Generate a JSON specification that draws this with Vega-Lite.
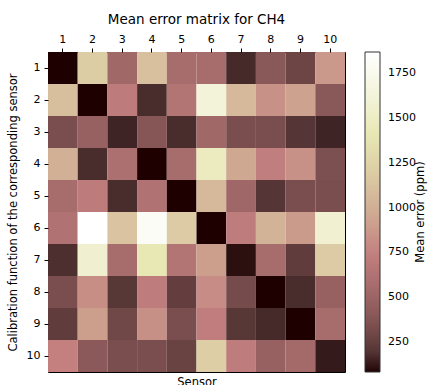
{
  "$schema": "https://vega.github.io/schema/vega-lite/v6.json",
  "width": 297,
  "height": 320,
  "autosize": "none",
  "padding": {"left": 48, "top": 52, "right": 86, "bottom": 13},
  "background": "white",
  "config": {
    "font": "DejaVu Sans",
    "view": {"stroke": "black", "strokeWidth": 1},
    "axis": {"labelFont": "DejaVu Sans", "titleFont": "DejaVu Sans", "labelFontSize": 11, "titleFontSize": 11.5, "labelColor": "black", "titleColor": "black", "titleFontWeight": "normal", "domainColor": "black", "tickColor": "black", "grid": false},
    "legend": {"labelFont": "DejaVu Sans", "titleFont": "DejaVu Sans"}
  },
  "title": {"text": "Mean error matrix for CH4", "fontSize": 13.5, "fontWeight": "normal", "font": "DejaVu Sans", "color": "black", "offset": 7},
  "data": {"values": [
    {"sensor": 1, "cal": 1, "err": 83}, {"sensor": 2, "cal": 1, "err": 1200}, {"sensor": 3, "cal": 1, "err": 530}, {"sensor": 4, "cal": 1, "err": 1115}, {"sensor": 5, "cal": 1, "err": 565}, {"sensor": 6, "cal": 1, "err": 565}, {"sensor": 7, "cal": 1, "err": 155}, {"sensor": 8, "cal": 1, "err": 400}, {"sensor": 9, "cal": 1, "err": 280}, {"sensor": 10, "cal": 1, "err": 870},
    {"sensor": 1, "cal": 2, "err": 1100}, {"sensor": 2, "cal": 2, "err": 83}, {"sensor": 3, "cal": 2, "err": 706}, {"sensor": 4, "cal": 2, "err": 163}, {"sensor": 5, "cal": 2, "err": 636}, {"sensor": 6, "cal": 2, "err": 1617}, {"sensor": 7, "cal": 2, "err": 1064}, {"sensor": 8, "cal": 2, "err": 830}, {"sensor": 9, "cal": 2, "err": 920}, {"sensor": 10, "cal": 2, "err": 400},
    {"sensor": 1, "cal": 3, "err": 333}, {"sensor": 2, "cal": 3, "err": 475}, {"sensor": 3, "cal": 3, "err": 137}, {"sensor": 4, "cal": 3, "err": 386}, {"sensor": 5, "cal": 3, "err": 163}, {"sensor": 6, "cal": 3, "err": 529}, {"sensor": 7, "cal": 3, "err": 333}, {"sensor": 8, "cal": 3, "err": 333}, {"sensor": 9, "cal": 3, "err": 199}, {"sensor": 10, "cal": 3, "err": 137},
    {"sensor": 1, "cal": 4, "err": 1010}, {"sensor": 2, "cal": 4, "err": 163}, {"sensor": 3, "cal": 4, "err": 600}, {"sensor": 4, "cal": 4, "err": 83}, {"sensor": 5, "cal": 4, "err": 565}, {"sensor": 6, "cal": 4, "err": 1475}, {"sensor": 7, "cal": 4, "err": 957}, {"sensor": 8, "cal": 4, "err": 730}, {"sensor": 9, "cal": 4, "err": 830}, {"sensor": 10, "cal": 4, "err": 342},
    {"sensor": 1, "cal": 5, "err": 565}, {"sensor": 2, "cal": 5, "err": 706}, {"sensor": 3, "cal": 5, "err": 163}, {"sensor": 4, "cal": 5, "err": 618}, {"sensor": 5, "cal": 5, "err": 83}, {"sensor": 6, "cal": 5, "err": 1064}, {"sensor": 7, "cal": 5, "err": 520}, {"sensor": 8, "cal": 5, "err": 199}, {"sensor": 9, "cal": 5, "err": 333}, {"sensor": 10, "cal": 5, "err": 333},
    {"sensor": 1, "cal": 6, "err": 618}, {"sensor": 2, "cal": 6, "err": 1867}, {"sensor": 3, "cal": 6, "err": 1135}, {"sensor": 4, "cal": 6, "err": 1813}, {"sensor": 5, "cal": 6, "err": 1190}, {"sensor": 6, "cal": 6, "err": 83}, {"sensor": 7, "cal": 6, "err": 716}, {"sensor": 8, "cal": 6, "err": 1028}, {"sensor": 9, "cal": 6, "err": 877}, {"sensor": 10, "cal": 6, "err": 1580},
    {"sensor": 1, "cal": 7, "err": 172}, {"sensor": 2, "cal": 7, "err": 1565}, {"sensor": 3, "cal": 7, "err": 565}, {"sensor": 4, "cal": 7, "err": 1420}, {"sensor": 5, "cal": 7, "err": 636}, {"sensor": 6, "cal": 7, "err": 904}, {"sensor": 7, "cal": 7, "err": 105}, {"sensor": 8, "cal": 7, "err": 565}, {"sensor": 9, "cal": 7, "err": 235}, {"sensor": 10, "cal": 7, "err": 1190},
    {"sensor": 1, "cal": 8, "err": 333}, {"sensor": 2, "cal": 8, "err": 815}, {"sensor": 3, "cal": 8, "err": 208}, {"sensor": 4, "cal": 8, "err": 715}, {"sensor": 5, "cal": 8, "err": 244}, {"sensor": 6, "cal": 8, "err": 805}, {"sensor": 7, "cal": 8, "err": 315}, {"sensor": 8, "cal": 8, "err": 83}, {"sensor": 9, "cal": 8, "err": 163}, {"sensor": 10, "cal": 8, "err": 475},
    {"sensor": 1, "cal": 9, "err": 235}, {"sensor": 2, "cal": 9, "err": 904}, {"sensor": 3, "cal": 9, "err": 297}, {"sensor": 4, "cal": 9, "err": 823}, {"sensor": 5, "cal": 9, "err": 333}, {"sensor": 6, "cal": 9, "err": 725}, {"sensor": 7, "cal": 9, "err": 208}, {"sensor": 8, "cal": 9, "err": 155}, {"sensor": 9, "cal": 9, "err": 83}, {"sensor": 10, "cal": 9, "err": 565},
    {"sensor": 1, "cal": 10, "err": 743}, {"sensor": 2, "cal": 10, "err": 413}, {"sensor": 3, "cal": 10, "err": 333}, {"sensor": 4, "cal": 10, "err": 333}, {"sensor": 5, "cal": 10, "err": 261}, {"sensor": 6, "cal": 10, "err": 1207}, {"sensor": 7, "cal": 10, "err": 716}, {"sensor": 8, "cal": 10, "err": 475}, {"sensor": 9, "cal": 10, "err": 547}, {"sensor": 10, "cal": 10, "err": 118}
  ]},
  "resolve": {"axis": {"x": "independent"}},
  "layer": [
    {
      "mark": {"type": "rect"},
      "encoding": {
        "x": {"field": "sensor", "type": "ordinal", "scale": {"paddingInner": 0, "paddingOuter": 0},
              "axis": {"orient": "top", "title": null, "labelAngle": 0, "tickSize": 4, "labelPadding": 4, "domain": false}},
        "y": {"field": "cal", "type": "ordinal", "scale": {"paddingInner": 0, "paddingOuter": 0},
              "axis": {"title": "Calibration function of the corresponding sensor", "labelAngle": 0, "tickSize": 4, "labelPadding": 4, "titlePadding": 8, "domain": false}},
        "color": {"field": "err", "type": "quantitative",
          "scale": {"type": "linear", "interpolate": "rgb",
            "domain": [83, 127.6, 172.2, 261.4, 350.6, 439.8, 529, 618.2, 734.2, 885.8, 975, 1064.2, 1153.4, 1242.6, 1413.9, 1599.4, 1867],
            "range": ["#1e0000", "#3a2121", "#4d2f2f", "#694242", "#7e5151", "#915d5d", "#a16868", "#b07272", "#c27e7e", "#cb9c8c", "#d0ab93", "#d5b99a", "#dac6a1", "#dfd3a8", "#e8e8b4", "#f2f2d6", "#ffffff"]},
          "legend": {"orient": "none", "legendX": 317, "legendY": 0, "direction": "vertical", "gradientLength": 320, "gradientThickness": 15,
            "gradientStrokeColor": "#333333", "gradientStrokeWidth": 1,
            "values": [250, 500, 750, 1000, 1250, 1500, 1750], "format": "d", "labelFontSize": 11, "labelColor": "black", "labelOffset": 8, "labelOverlap": false,
            "title": "Mean error (ppm)", "titleOrient": "right", "titleFontSize": 11.5, "titleFontWeight": "normal", "titleColor": "black", "titleAnchor": "middle", "titlePadding": 10,
            "encode": {"title": {"update": {"angle": {"value": 270}}}}}
        }
      }
    },
    {
      "mark": {"type": "rect", "opacity": 0},
      "encoding": {
        "x": {"field": "sensor", "type": "ordinal",
              "axis": {"orient": "bottom", "title": "Sensor", "labels": false, "ticks": false, "domain": false, "titlePadding": 4}},
        "y": {"field": "cal", "type": "ordinal"}
      }
    }
  ]
}
